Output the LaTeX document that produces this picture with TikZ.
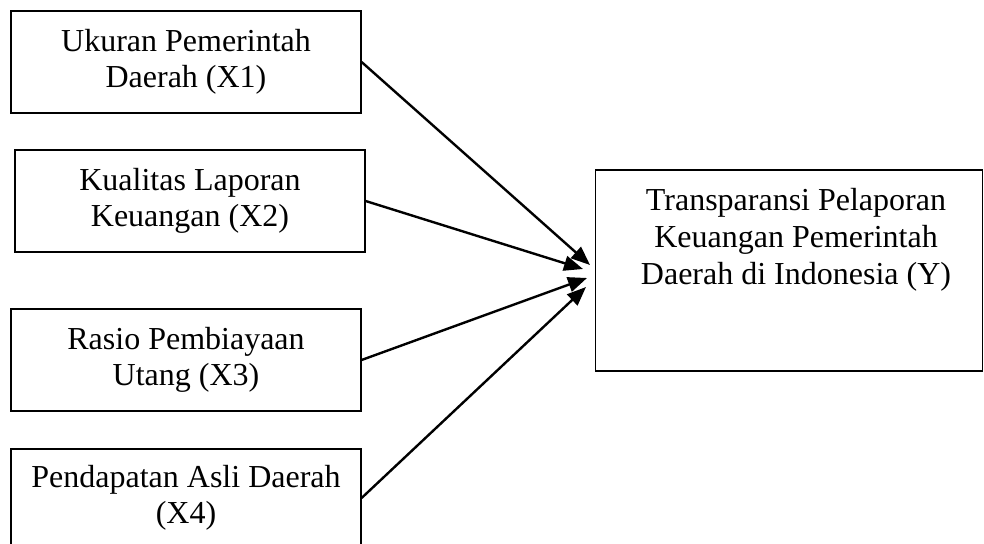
\documentclass[tikz,border=0pt]{standalone}
\usepackage{fontspec}
\setmainfont{Liberation Serif}
\usetikzlibrary{arrows.meta}

\begin{document}
\begin{tikzpicture}[x=0.5pt,y=-0.5pt,
    box/.style={draw,line width=0.6pt,minimum width=175pt,minimum height=51pt,
      align=center,inner sep=0pt,font=\fontsize{16}{18}\selectfont},
    link/.style={line width=1.2pt,-{Triangle[length=9.5pt,width=7.5pt]}}]
  \useasboundingbox (0,0) rectangle (984,544);

  \node[box] (x1) at (186,62) {Ukuran Pemerintah\\Daerah (X1)};
  \node[box] (x2) at (190,201) {Kualitas Laporan\\Keuangan (X2)};
  \node[box] (x3) at (186,360) {Rasio Pembiayaan\\Utang (X3)};
  \node[box,minimum height=49pt] (x4) at (186,498) {Pendapatan Asli Daerah\\(X4)};

  \node[box,minimum width=193.5pt,minimum height=100.5pt] (y) at (789,270.5) {};
  \node[anchor=north,inner sep=0pt,align=center,font=\fontsize{16}{18.5}\selectfont] (ytext) at (796,188)
    {Transparansi Pelaporan\\Keuangan Pemerintah\\Daerah di Indonesia (Y)};

  \coordinate (t1) at (590,265);
  \coordinate (t2) at (583,269);
  \coordinate (t3) at (587,278);
  \coordinate (t4) at (586,287);

  \draw[link] (x1.east) -- (t1);
  \draw[link] (x2.east) -- (t2);
  \draw[link] (x3.east) -- (t3);
  \draw[link] (x4.east) -- (t4);
\end{tikzpicture}
\end{document}
